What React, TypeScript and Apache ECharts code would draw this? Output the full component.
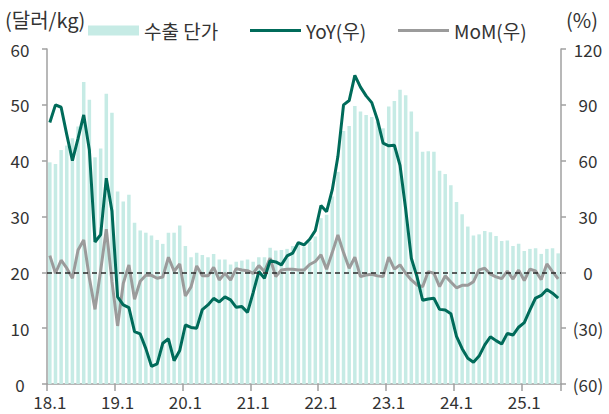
import React, { useEffect, useRef } from "react";
import * as echarts from "echarts";

const startYear = 18;
const monthCount = 91; // 2018.1 - 2025.7
const categories: string[] = [];
for (let i = 0; i < monthCount; i++) {
  const y = startYear + Math.floor(i / 12);
  const m = (i % 12) + 1;
  categories.push(`${y}.${m}`);
}

// 수출 단가 (달러/kg)
const unitPrice = [
  39.7, 39.4, 41.9, 42.7, 44.0, 46.1, 54.1, 50.9, 40.6, 42.2, 52.0, 48.6,
  34.5, 32.7, 33.9, 28.9, 27.5, 27.1, 26.6, 25.8, 25.1, 27.1, 27.1, 28.4,
  24.7, 22.7, 23.5, 23.1, 22.7, 23.3, 22.3, 22.3, 21.4, 21.9, 22.1, 22.3,
  21.9, 22.7, 22.7, 24.4, 23.9, 24.0, 24.2, 24.7, 25.2, 24.6, 25.5, 26.4,
  29.7, 30.3, 33.6, 38.0, 45.3, 46.2, 49.8, 48.8, 48.2, 47.8, 47.0, 45.8,
  49.7, 50.7, 52.7, 51.7, 48.8, 45.2, 41.6, 41.7, 41.6, 38.2, 37.6, 35.6,
  32.6, 30.4, 28.2, 26.6, 26.8, 27.4, 27.2, 26.5, 25.6, 25.7, 24.7, 25.1,
  23.8, 24.2, 24.3, 23.3, 24.2, 24.3, 23.4,
];

// YoY (%)
const yoy = [
  80.5, 90.0, 88.7, 74.0, 60.0, 72.0, 84.6, 65.8, 16.3, 20.3, 50.6, 33.0,
  -13.2, -17.5, -19.0, -31.9, -33.1, -41.0, -50.5, -49.2, -38.1, -35.7, -47.5, -42.0,
  -28.3, -29.6, -30.0, -20.0, -17.5, -14.0, -15.9, -13.2, -14.8, -18.8, -18.4, -21.5,
  -10.9, 0.4, -3.2, 6.2, 5.6, 4.0, 8.8, 10.3, 16.0, 14.7, 17.8, 22.4,
  35.9, 32.6, 44.3, 62.2, 90.0, 92.3, 105.8, 99.5, 94.8, 91.2, 82.0, 69.4,
  68.0, 68.3, 57.5, 34.0, 7.6, -2.3, -15.0, -14.3, -13.9, -19.9, -20.2, -22.2,
  -34.4, -41.0, -46.2, -48.3, -45.0, -39.0, -34.6, -36.7, -38.5, -32.8, -33.7, -29.5,
  -27.0, -20.2, -13.8, -12.4, -9.2, -11.2, -13.9,
];

// MoM (%)
const mom = [
  9.0, -0.5, 6.5, 2.2, -3.2, 12.0, 17.4, -3.0, -19.9, 1.0, 23.2, -5.0,
  -28.8, -6.0, 4.0, -14.5, -4.8, -1.6, -1.6, -3.2, -2.5, 8.1, 0.6, 4.5,
  -12.7, -7.8, 3.4, -1.9, -1.9, 2.7, -4.1, -0.5, -4.1, 2.0, 1.3, 0.9,
  -0.5, 3.6, 0.4, 7.6, -2.3, 1.3, 1.7, 1.7, 1.3, 1.2, 4.2, 5.8,
  9.4, 1.7, 10.6, 20.1, 10.6, 2.2, 8.1, -2.3, -1.4, -1.0, -1.9, -2.3,
  8.2, 1.7, 4.0, -0.5, -4.1, -6.8, -7.7, 0.4, -0.5, -7.7, -1.9, -5.2,
  -8.3, -7.0, -7.0, -5.0, 1.3, 2.2, -1.0, -2.4, -3.4, 0.7, -3.6, 1.2,
  -4.4, 1.7, 0.7, -3.9, 4.5, 0.4, -3.5,
];

const FONT = "'Noto Sans CJK KR', 'Noto Sans', sans-serif";
const TEXT = "#333333";
const AXIS = "#a0a0a0";
const LINE_ICON = "path://M0,0M0,3.5H51V6.5H0ZM51,10";

const legendBase = {
  top: 21,
  padding: 0,
  itemWidth: 51,
  itemHeight: 10,
  itemGap: 10,
  textStyle: { fontSize: 19, color: TEXT, fontFamily: FONT },
};

export default function App() {
  const ref = useRef<HTMLDivElement>(null);
  useEffect(() => {
    document.body.style.margin = "0";
    if (!ref.current) return;
    const chart = echarts.init(ref.current, undefined, { renderer: "svg" });
    chart.setOption({
      animation: false,
      textStyle: { fontFamily: FONT },
      grid: { left: 47, right: 48, top: 49, bottom: 30, containLabel: false },
      legend: [
        { ...legendBase, left: 88, data: [{ name: "수출 단가", icon: "rect" }] },
        { ...legendBase, left: 250, data: [{ name: "YoY(우)", icon: LINE_ICON }] },
        { ...legendBase, left: 398, data: [{ name: "MoM(우)", icon: LINE_ICON }] },
      ],
      graphic: [
        {
          type: "text",
          left: 5,
          top: 9,
          style: { text: "(달러/kg)", fontSize: 20, fill: TEXT, fontFamily: FONT },
        },
        {
          type: "text",
          left: 566,
          top: 9,
          style: { text: "(%)", fontSize: 20, fill: TEXT, fontFamily: FONT },
        },
      ],
      xAxis: {
        type: "category",
        data: categories,
        boundaryGap: true,
        axisLine: { lineStyle: { color: AXIS, width: 1.5 } },
        axisTick: { show: true, interval: 11, length: 7, lineStyle: { color: AXIS, width: 1.5 } },
        axisLabel: { interval: 11, fontSize: 17, color: TEXT, margin: 9, fontFamily: FONT },
      },
      yAxis: [
        {
          type: "value",
          min: 0,
          max: 60,
          interval: 10,
          splitLine: { show: false },
          axisLine: { show: true, lineStyle: { color: AXIS, width: 1.5 } },
          axisTick: { show: true, length: 5, lineStyle: { color: AXIS, width: 1.5 } },
          axisLabel: { fontSize: 17, color: TEXT, margin: 27, align: "center", fontFamily: FONT },
        },
        {
          type: "value",
          min: -60,
          max: 120,
          interval: 30,
          position: "right",
          splitLine: { show: false },
          axisLine: { show: true, lineStyle: { color: AXIS, width: 1.5 } },
          axisTick: { show: true, length: 5, lineStyle: { color: AXIS, width: 1.5 } },
          axisLabel: {
            fontSize: 17,
            color: TEXT,
            margin: 27,
            align: "center",
            fontFamily: FONT,
            formatter: (v: number) => (v < 0 ? `(${-v})` : `${v}`),
          },
        },
      ],
      series: [
        {
          name: "수출 단가",
          type: "bar",
          data: unitPrice,
          yAxisIndex: 0,
          barWidth: "62%",
          itemStyle: { color: "#c6ebe5" },
          z: 1,
        },
        {
          name: "YoY(우)",
          type: "line",
          data: yoy,
          yAxisIndex: 1,
          symbol: "none",
          lineStyle: { color: "#006b5a", width: 3 },
          itemStyle: { color: "#006b5a" },
          z: 3,
        },
        {
          name: "MoM(우)",
          type: "line",
          data: mom,
          yAxisIndex: 1,
          symbol: "none",
          lineStyle: { color: "#9b9b9b", width: 3 },
          itemStyle: { color: "#9b9b9b" },
          z: 2,
          markLine: {
            silent: true,
            symbol: "none",
            label: { show: false },
            lineStyle: { color: "#2a2a2a", width: 1.5, type: [5, 4] },
            data: [{ yAxis: 0 }],
          },
        },
      ],
    });
    return () => chart.dispose();
  }, []);
  return <div ref={ref} style={{ width: 609, height: 414 }} />;
}
